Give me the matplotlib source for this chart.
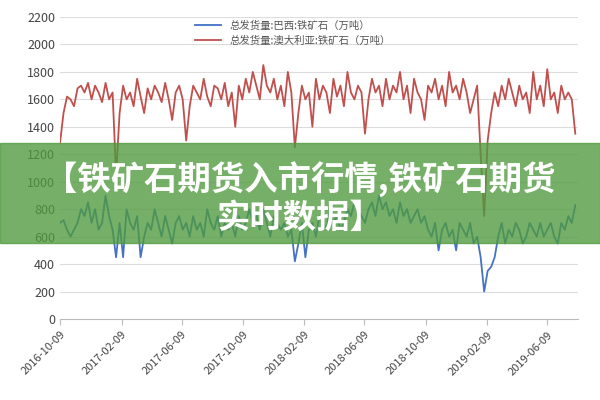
import matplotlib
matplotlib.use("Agg")
import matplotlib.pyplot as plt
import pandas as pd
from matplotlib.patches import Rectangle

plt.rcParams['font.family'] = ['Noto Sans CJK SC', 'DejaVu Sans']

australia = [1280,1500,1620,1600,1550,1680,1700,1650,1720,1600,1700,1650,1580,1720,1600,1650,1050,1500,
 1700,1600,1650,1550,1750,1620,1500,1680,1600,1700,1650,1580,1720,1600,1450,1650,1700,
 1600,1300,1550,1700,1650,1600,1750,1620,1550,1700,1680,1600,1720,1550,1650,1400,1700,
 1600,1750,1650,1800,1700,1600,1850,1700,1650,1750,1600,1700,1550,1800,1650,1250,1500,
 1700,1600,1650,1400,1750,1600,1700,1650,1500,1750,1620,1700,1550,1800,1650,1600,1700,
 1650,1350,1600,1750,1650,1700,1550,1750,1600,1700,1650,1800,1600,1700,1500,1750,1650,
 1600,1450,1700,1650,1750,1600,1700,1550,1800,1650,1700,1600,1750,1650,1500,1600,1700,
 1200,750,1300,1500,1650,1550,1700,1600,1750,1650,1550,1700,1600,1650,1500,1800,1600,
 1700,1550,1820,1600,1650,1500,1700,1600,1650,1600,1350]
brazil = [700,720,650,600,650,700,800,750,850,700,800,650,700,900,750,650,450,700,
 450,800,700,650,750,450,600,700,650,800,700,600,750,650,550,700,750,
 650,700,600,750,650,700,600,800,700,650,750,600,700,650,700,600,750,
 650,700,800,700,750,650,800,700,600,750,700,650,700,600,650,420,550,
 700,450,650,700,600,750,700,650,800,700,750,650,700,800,750,850,800,
 750,700,800,850,750,900,800,850,750,800,700,850,750,800,700,750,800,
 700,750,650,600,700,500,650,700,600,650,500,700,650,600,700,550,600,
 450,200,350,380,450,600,700,550,650,600,700,650,550,600,700,650,600,
 700,600,650,700,600,550,700,650,750,700,830]
dates = pd.date_range("2016-10-09", periods=len(brazil), freq="7D")
tick_labels = ["2016-10-09","2017-02-09","2017-06-09","2017-10-09","2018-02-09",
               "2018-06-09","2018-10-09","2019-02-09","2019-06-09"]

fig = plt.figure(figsize=(6, 4), dpi=100)
ax = fig.add_axes([0.1, 0.2025, 0.863, 0.755])
ax.plot(dates, brazil, color="#4472C4", lw=1.3, label="总发货量:巴西:铁矿石（万吨）")
ax.plot(dates, australia, color="#C0504D", lw=1.3, label="总发货量:澳大利亚:铁矿石（万吨）")
ax.set_ylim(0, 2200)
ax.set_yticks(range(0, 2201, 200))
ax.set_xticks(pd.to_datetime(tick_labels))
ax.set_xticklabels(tick_labels, rotation=45, ha="right", rotation_mode="anchor", fontsize=8, color="#444444")
ax.set_xlim(pd.Timestamp("2016-10-09"), dates[-1] + pd.Timedelta(days=5))
ax.tick_params(axis="y", labelsize=9, colors="#444444", length=0)
ax.tick_params(axis="x", length=4, color="#bbbbbb")
ax.grid(axis="y", color="#dddddd", lw=0.8)
for s in ["top", "right", "left"]:
    ax.spines[s].set_visible(False)
ax.spines["bottom"].set_color("#bbbbbb")
ax.legend(loc="upper center", bbox_to_anchor=(0.45, 1.02), frameon=False, fontsize=7.5,
          labelcolor="#555555", handlelength=2.5)

fig.patches.append(Rectangle((0, 1 - 243/400), 1, 100/400, transform=fig.transFigure,
                             color="#4f9a3e", alpha=0.78, zorder=10))
fig.text(0.5, 1 - 180/400, "【铁矿石期货入市行情,铁矿石期货", ha="center", va="center",
         fontsize=24, fontweight="bold", color="white", zorder=11)
fig.text(0.5, 1 - 218/400, "实时数据】", ha="center", va="center",
         fontsize=24, fontweight="bold", color="white", zorder=11)
fig.savefig("out.png", dpi=100)
